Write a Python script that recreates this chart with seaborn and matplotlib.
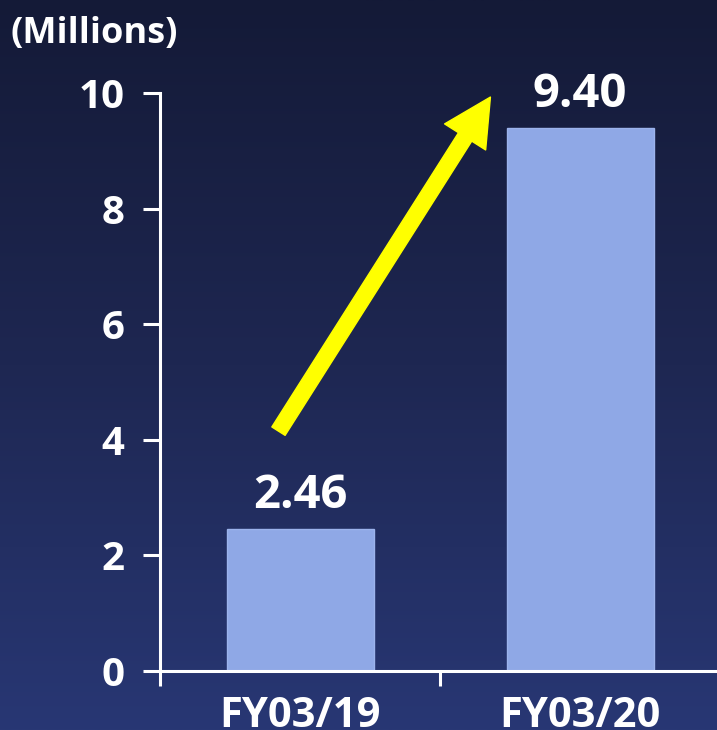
import numpy as np
import pandas as pd
import matplotlib
matplotlib.use("Agg")
import matplotlib.pyplot as plt
from matplotlib.patches import FancyArrowPatch
from matplotlib.colors import LinearSegmentedColormap
import seaborn as sns

# Data
categories = ["FY03/19", "FY03/20"]
values = [2.46, 9.40]
yticks = [0, 2, 4, 6, 8, 10]
unit_label = "(Millions)"

sns.set_style("white")
plt.rcParams["font.family"] = ["Open Sans", "DejaVu Sans"]
plt.rcParams["font.weight"] = "bold"

BAR = "#8fa8e6"
WHITE = "#ffffff"

fig = plt.figure(figsize=(7.17, 7.30), dpi=100)

# Navy vertical gradient behind everything
bg = fig.add_axes([0, 0, 1, 1], zorder=-10)
cmap = LinearSegmentedColormap.from_list("navy", ["#141a37", "#1e2752", "#283774"])
grad = np.linspace(0, 1, 256).reshape(-1, 1)
bg.imshow(grad, aspect="auto", cmap=cmap, extent=[0, 1, 0, 1], origin="upper")
bg.axis("off")

ax = fig.add_axes([0.2232, 0.0808, 0.781, 0.7918])
ax.set_facecolor("none")

df = pd.DataFrame({"period": categories, "value": values})
sns.barplot(data=df, x="period", y="value", color=BAR, width=0.525,
            saturation=1, edgecolor="#9cb3ec", linewidth=1, ax=ax)

ax.set_xlim(-0.5, 1.5)
ax.set_ylim(0, 10)
ax.set_xlabel("")
ax.set_ylabel("")

# Spines
for side in ["top", "right"]:
    ax.spines[side].set_visible(False)
for side in ["left", "bottom"]:
    ax.spines[side].set_color(WHITE)
    ax.spines[side].set_linewidth(2.2)

# Y ticks
ax.set_yticks(yticks)
ax.set_yticklabels([str(t) for t in yticks])
ax.tick_params(axis="y", left=True, direction="out", length=12.5, width=2.2,
               color=WHITE, labelcolor=WHITE, labelsize=29, pad=13)

# X ticks: labels at category centres, tick marks between categories
ax.set_xticks(range(len(categories)))
ax.set_xticklabels(categories, fontsize=30, fontweight="bold", color=WHITE)
ax.set_xticks([-0.5, 0.5, 1.5], minor=True)
ax.tick_params(axis="x", which="major", bottom=True, length=0, pad=18)
ax.tick_params(axis="x", which="minor", bottom=True, direction="out", length=11,
               width=2.2, color=WHITE)

# Value labels
ax.bar_label(ax.containers[0], labels=[f"{v:.2f}" for v in values], padding=7,
             fontsize=34, fontweight="bold", color=WHITE)

# Growth arrow
arrow = FancyArrowPatch((-0.077, 4.15), (0.680, 9.93),
                        arrowstyle="simple,head_length=34,head_width=35,tail_width=11.3",
                        mutation_scale=1, color="#ffff00", shrinkA=0, shrinkB=0,
                        zorder=5, clip_on=False)
ax.add_patch(arrow)

fig.text(0.014, 0.953, unit_label, fontsize=26, fontweight="bold", color=WHITE,
         ha="left", va="center")

fig.savefig("out.png", dpi=100)
